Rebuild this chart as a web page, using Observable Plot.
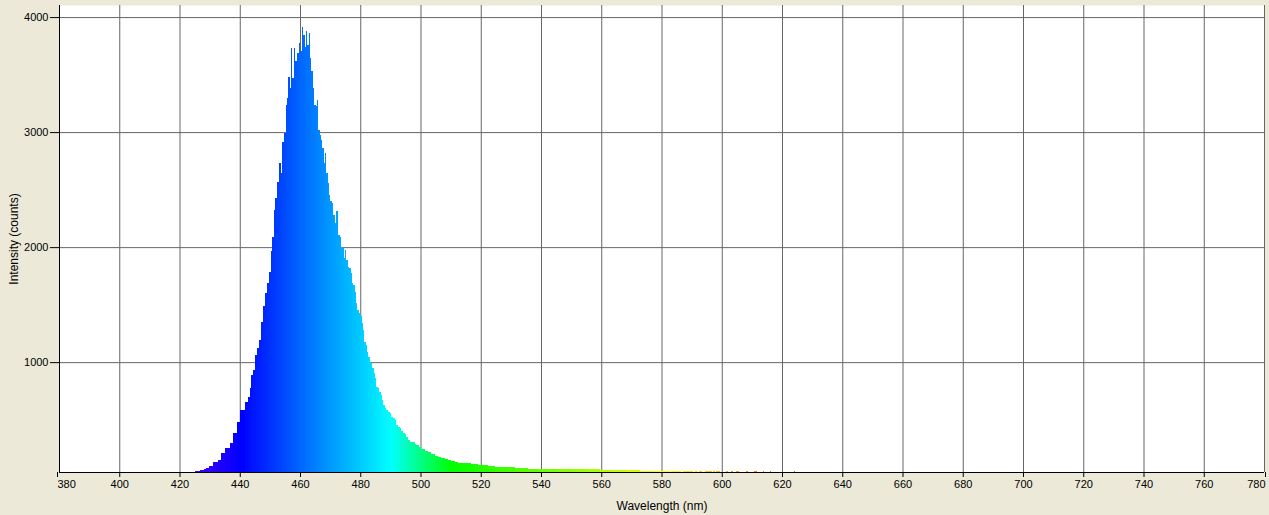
<!DOCTYPE html>
<html><head><meta charset="utf-8">
<script src="https://cdn.jsdelivr.net/npm/d3@7"></script>
<script src="https://cdn.jsdelivr.net/npm/@observablehq/plot@0.6"></script>
<style>html,body{margin:0;padding:0;background:#ECE9D8;overflow:hidden;}</style>
</head><body><div id="chart"></div>
<script>
// Wavelength (nm) at the start of each measured bin
const wavelengths = [
425.05,426.7,428.0,428.9,429.8,431.1,432.8,433.9,435.0,436.7,437.8,439.1,440.0,441.6,
442.75,443.31,443.86,444.41,444.97,445.74,446.29,446.96,447.73,448.51,449.06,449.72,450.28,450.83,
451.27,451.83,452.38,452.93,453.60,454.15,454.70,455.26,455.70,456.14,456.58,457.03,457.47,457.91,
458.47,459.02,459.57,460.13,460.57,461.12,461.67,462.11,462.44,462.89,463.33,463.77,464.22,464.66,
465.21,465.65,466.10,466.54,466.98,467.42,467.87,468.31,468.75,469.19,469.64,470.08,470.63,471.08,
471.52,472.07,472.62,473.18,473.73,474.06,474.51,474.95,475.39,475.83,476.39,476.83,477.27,477.71,
478.16,478.60,479.04,479.48,479.93,480.48,480.92,481.37,481.81,482.25,482.69,483.14,483.58,484.02,
484.46,484.91,485.35,485.90,486.34,486.79,487.23,487.67,488.12,488.67,489.22,489.78,490.33,490.88,
491.43,491.99,492.54,493.09,493.65,494.20,494.75,495.31,495.86,496.41,496.97,497.52,498.07,498.63,
499.40,500.29,501.40,502.51,503.61,504.72,505.83,506.93,508.04,509.15,510.25,511.36,512.46,513.57,
514.68,515.78,516.89,518.00,519.10,520.21,522.42,524.64,526.85,529.06,531.28,533.49,535.70,537.91,
540.13,542.3,544.8,547.0,549.5,552.0,554.5,556.2,559.5,563.9,568.3,572.8,577.2,
579.4,582.7,583.3,586.5,587.1,590.5,591.0,591.8,592.5,593.3,594.3,596.6,597.1,597.8,598.2,599.3,
601.5,602.1,603.2,603.8,604.8,605.8,608.2,608.6,610.7,611.7,613.6,613.9,616.1,616.4,624.1,624.4
];
// Intensity (counts) of each bin
const counts = [
55,63,72,84,101,136,150,209,252,301,383,484,585,657,
701,773,890,933,1063,1124,1194,1353,1484,1600,1687,1788,1962,2092,
2324,2426,2570,2730,2643,2918,2991,3237,3296,3483,3383,3730,3470,3730,
3614,3687,3774,3701,3918,3846,3744,3875,3759,3861,3646,3527,3383,3237,
3223,3281,3020,2977,2933,2861,2730,2817,2643,2557,2455,2397,2383,2281,
2209,2310,2107,2092,2005,1991,1904,1977,1890,1831,1817,1774,1687,1672,
1614,1513,1455,1426,1397,1339,1281,1179,1150,1092,1049,1005,991,948,
904,861,788,774,744,716,672,629,600,585,570,557,527,513,
498,455,440,426,405,383,374,353,324,310,310,310,290,281,
266,246,229,217,203,188,179,168,157,150,142,136,127,127,
127,122,116,113,107,104,98,92,87,87,81,78,72,72,
72,74,75,73,74,72,71,70,66,63,61,57,55,
53,42,53,42,52,42,52,42,52,42,53,42,52,42,52,42,
51,42,51,42,52,42,51,42,51,42,50,42,50,42,50,42
];
const xTicks = [380,400,420,440,460,480,500,520,540,560,580,600,620,640,660,680,700,720,740,760,780];
const yTicks = [1000,2000,3000,4000];
const xDomain = [380, 780];
const yDomain = [45, 4105];
const xLabel = "Wavelength (nm)";
const yLabel = "Intensity (counts)";
// visible-spectrum colour stops (wavelength -> colour)
const spectrumStops = [380, 440, 490, 510, 580, 645, 780];
const spectrumColors = ["#ff00ff", "#0000ff", "#00ffff", "#00ff00", "#ffff00", "#ff0000", "#ff0000"];

const spectrum = d3.scaleLinear().domain(spectrumStops).range(spectrumColors).interpolate(d3.interpolateRgb).clamp(true);
const rows = wavelengths.map((w, i) => ({
  x1: w,
  x2: i + 1 < wavelengths.length ? wavelengths[i + 1] : w + 0.5,
  y: counts[i],
  c: spectrum(w)
}));

const innerTicks = xTicks.slice(1, -1);
const firstTick = xTicks.slice(0, 1);
const lastTick = xTicks.slice(-1);
const axisStyle = {tickSize: 5, tickPadding: 3, tickFormat: "d", fontSize: 11};

const chart = Plot.plot({
  width: 1269,
  height: 515,
  marginLeft: 59,
  marginRight: 5,
  marginTop: 5,
  marginBottom: 43,
  style: {background: "transparent", fontFamily: "Liberation Sans, Arial, sans-serif", fontSize: "11px", color: "black"},
  x: {domain: xDomain},
  y: {domain: yDomain},
  color: {type: "identity"},
  marks: [
    Plot.frame({fill: "white", stroke: "none"}),
    Plot.gridX(xTicks, {stroke: "#666", strokeOpacity: 1}),
    Plot.gridY(yTicks, {stroke: "#666", strokeOpacity: 1}),
    Plot.rectY(rows, {x1: "x1", x2: "x2", y: "y", fill: "c", clip: true, shapeRendering: "crispEdges"}),
    Plot.ruleY([yDomain[0]], {stroke: "black"}),
    Plot.ruleX([xDomain[0]], {stroke: "black"}),
    Plot.axisX({...axisStyle, ticks: innerTicks, label: xLabel, labelAnchor: "center", labelArrow: "none", labelOffset: 37}),
    Plot.axisX({...axisStyle, ticks: firstTick, textAnchor: "start", dx: -2, label: null}),
    Plot.axisX({...axisStyle, ticks: lastTick, textAnchor: "end", dx: 1, label: null}),
    Plot.axisY({ticks: yTicks, tickSize: 9, tickPadding: 2, tickFormat: "d", label: yLabel, labelAnchor: "center", labelArrow: "none", labelOffset: 50, fontSize: 11})
  ]
});
chart.querySelectorAll("[aria-label='x-axis label'] text, [aria-label='y-axis label'] text").forEach(t => t.setAttribute("font-size", "12"));
document.getElementById("chart").appendChild(chart);
</script>
</body></html>
